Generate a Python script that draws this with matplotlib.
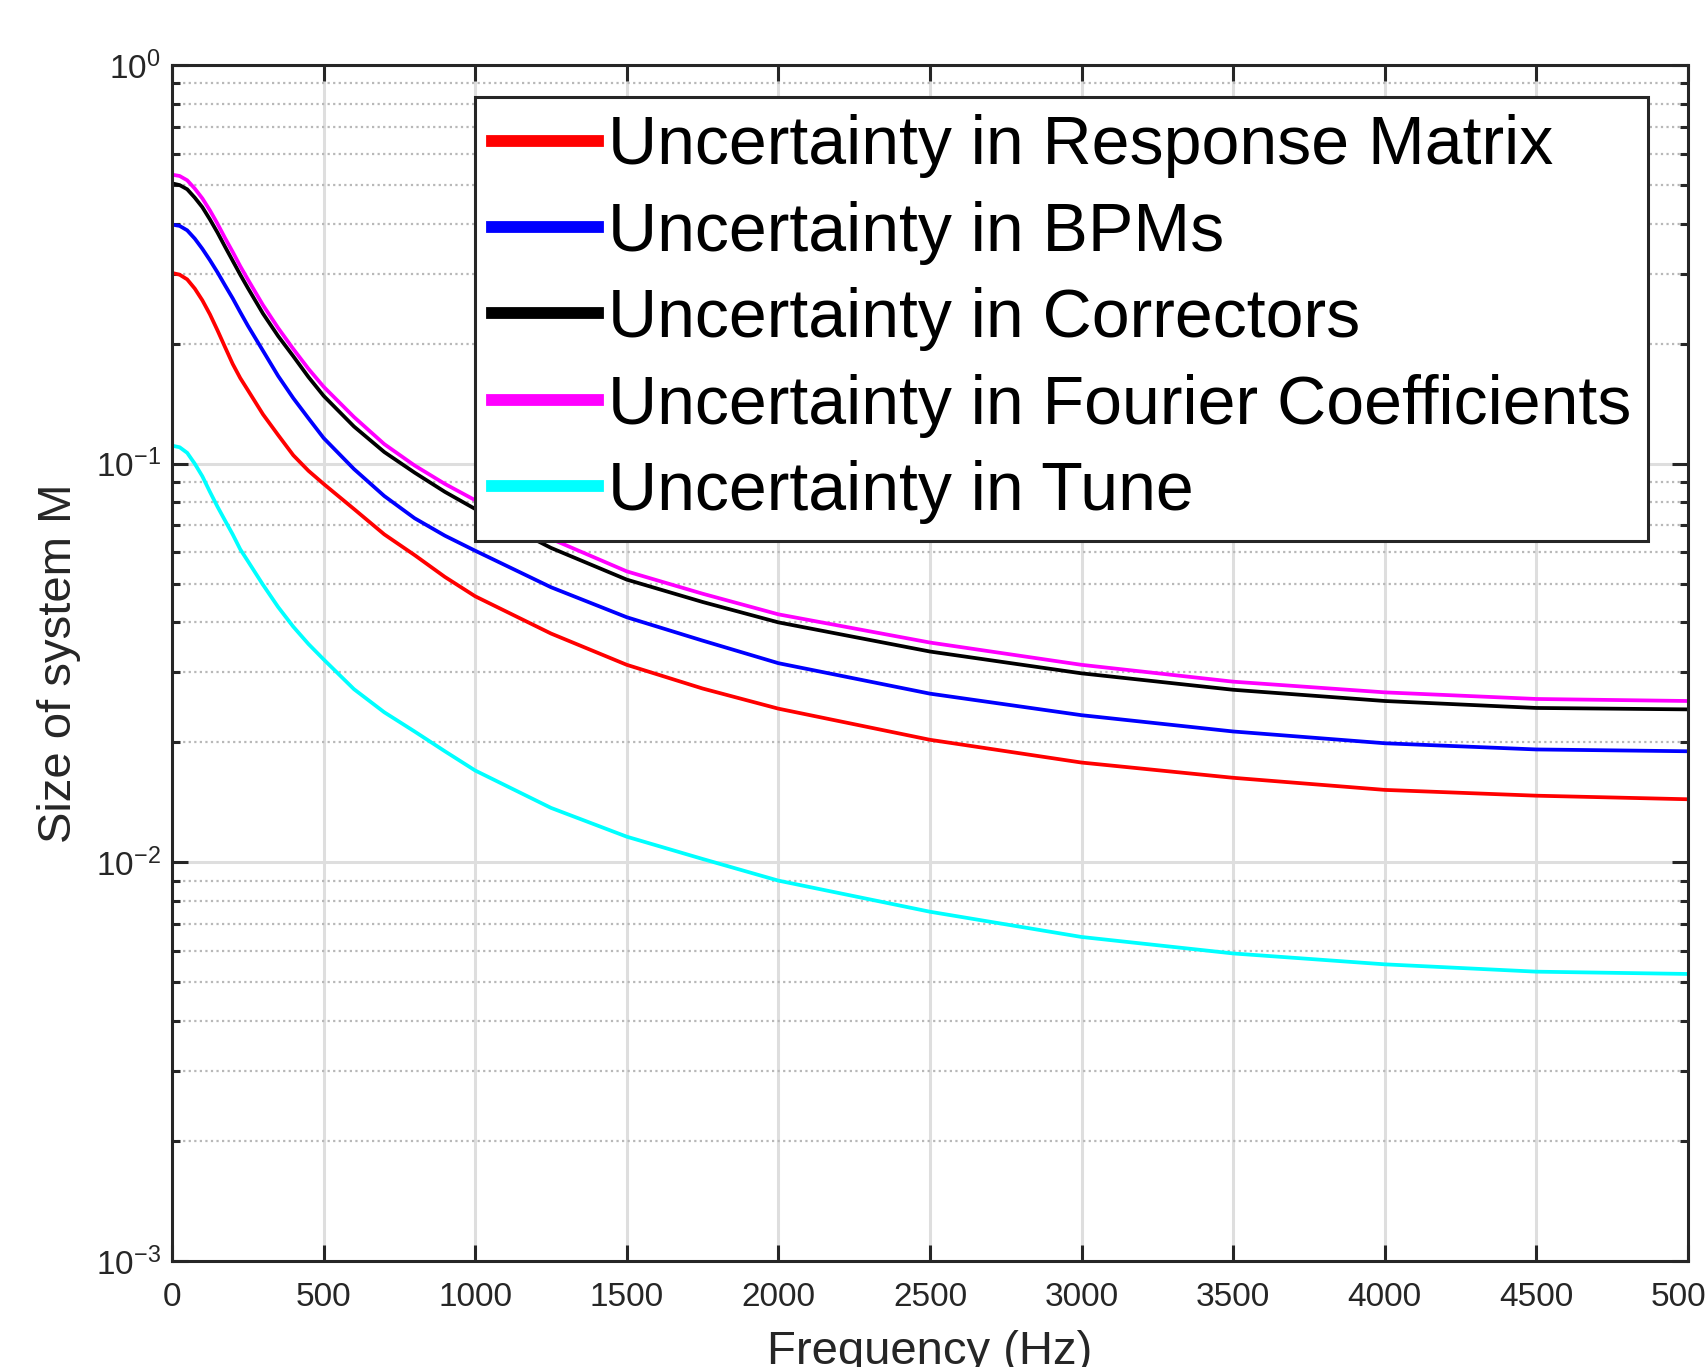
import matplotlib
matplotlib.use('Agg')
import matplotlib.pyplot as plt
from matplotlib.ticker import LogLocator, NullFormatter, FixedLocator

plt.rcParams['font.family'] = ['Liberation Sans', 'DejaVu Sans']
plt.rcParams['mathtext.fontset'] = 'custom'
plt.rcParams['mathtext.rm'] = 'Liberation Sans'
plt.rcParams['mathtext.it'] = 'Liberation Sans:italic'

# values
freq = [0, 25, 50, 75, 100, 125, 150, 175, 200, 225, 250, 300, 350, 400, 450,
        500, 600, 700, 800, 900, 1000, 1250, 1500, 1750, 2000, 2500, 3000,
        3500, 4000, 4500, 5000]

resp_matrix = [0.301, 0.298, 0.290, 0.275, 0.257, 0.237, 0.216, 0.196, 0.178,
               0.164, 0.153, 0.133, 0.118, 0.105, 0.096, 0.089, 0.077, 0.0665,
               0.059, 0.052, 0.0465, 0.0375, 0.0313, 0.0273, 0.0243, 0.0203,
               0.0178, 0.0163, 0.0152, 0.0147, 0.0144]
bpms = [0.398, 0.395, 0.385, 0.367, 0.346, 0.324, 0.302, 0.280, 0.260, 0.240,
        0.222, 0.192, 0.166, 0.146, 0.130, 0.116, 0.097, 0.083, 0.073, 0.066,
        0.0605, 0.049, 0.0412, 0.036, 0.0316, 0.0265, 0.0234, 0.0213, 0.0199,
        0.0192, 0.0190]
correctors = [0.505, 0.500, 0.488, 0.465, 0.440, 0.410, 0.380, 0.350, 0.323,
              0.298, 0.276, 0.238, 0.209, 0.186, 0.165, 0.148, 0.124, 0.107,
              0.095, 0.085, 0.077, 0.0615, 0.0512, 0.0450, 0.040, 0.0338,
              0.0298, 0.0271, 0.0254, 0.0244, 0.0242]
fourier = [0.531, 0.527, 0.514, 0.490, 0.463, 0.432, 0.400, 0.368, 0.340,
           0.313, 0.290, 0.250, 0.219, 0.194, 0.173, 0.156, 0.131, 0.112,
           0.099, 0.089, 0.081, 0.0648, 0.0537, 0.0472, 0.0419, 0.0356,
           0.0313, 0.0284, 0.0267, 0.0257, 0.0254]
tune = [0.111, 0.110, 0.1065, 0.100, 0.093, 0.085, 0.078, 0.072, 0.0665,
        0.061, 0.057, 0.0497, 0.0437, 0.0390, 0.0353, 0.0323, 0.0272, 0.0238,
        0.0213, 0.0190, 0.0170, 0.0137, 0.0116, 0.0102, 0.0090, 0.00752,
        0.0065, 0.00591, 0.00555, 0.00532, 0.00525]

labels = ['Uncertainty in Response Matrix', 'Uncertainty in BPMs',
          'Uncertainty in Correctors', 'Uncertainty in Fourier Coefficients',
          'Uncertainty in Tune']
colors = ['#ff0000', '#0000ff', '#000000', '#ff00ff', '#00ffff']
xticks = [0, 500, 1000, 1500, 2000, 2500, 3000, 3500, 4000, 4500, 5000]

fig = plt.figure(figsize=(17.05, 13.67), dpi=100)
ax = fig.add_axes([0.1009, 0.0775, 0.8891, 0.8749])

series = [resp_matrix, bpms, correctors, fourier, tune]
for s, c, lab in zip(series, colors, labels):
    ax.plot(freq, s, color=c, lw=2.7, label=lab)

ax.set_yscale('log')
ax.set_xlim(0, 5000)
ax.set_ylim(1e-3, 1)
ax.xaxis.set_major_locator(FixedLocator(xticks))
ax.yaxis.set_major_locator(LogLocator(base=10))
ax.yaxis.set_minor_locator(LogLocator(base=10, subs=range(2, 10)))
ax.yaxis.set_minor_formatter(NullFormatter())

ax.grid(True, which='major', color='#dedede', lw=2.2, ls='-')
ax.grid(True, which='minor', axis='y', color='#b8b8b8', lw=1.6, ls=(0, (1, 1.5)))
ax.set_axisbelow(True)

for sp in ax.spines.values():
    sp.set_color('#262626')
    sp.set_linewidth(2.2)

ax.tick_params(which='both', direction='in', top=True, right=True,
               color='#262626', width=2.2, labelsize=24, labelcolor='#262626')
ax.tick_params(which='major', length=11.5)
ax.tick_params(which='minor', length=5.8)
ax.tick_params(axis='x', pad=15)
ax.tick_params(axis='y', pad=8)

ax.set_xlabel('Frequency (Hz)', fontsize=34, color='#262626', labelpad=12)
ax.set_ylabel('Size of system M', fontsize=34, color='#262626', labelpad=11)

leg = ax.legend(loc='upper left', bbox_to_anchor=(0.2, 0.973), fontsize=49,
                frameon=True, fancybox=False, framealpha=1, borderpad=0.25,
                labelspacing=0.33, handlelength=1.55, handletextpad=0.15,
                borderaxespad=0)
leg.get_frame().set_edgecolor('#262626')
leg.get_frame().set_linewidth(2.2)
for h in leg.get_lines():
    h.set_linewidth(8.5)

fig.savefig('out.png', dpi=100)
